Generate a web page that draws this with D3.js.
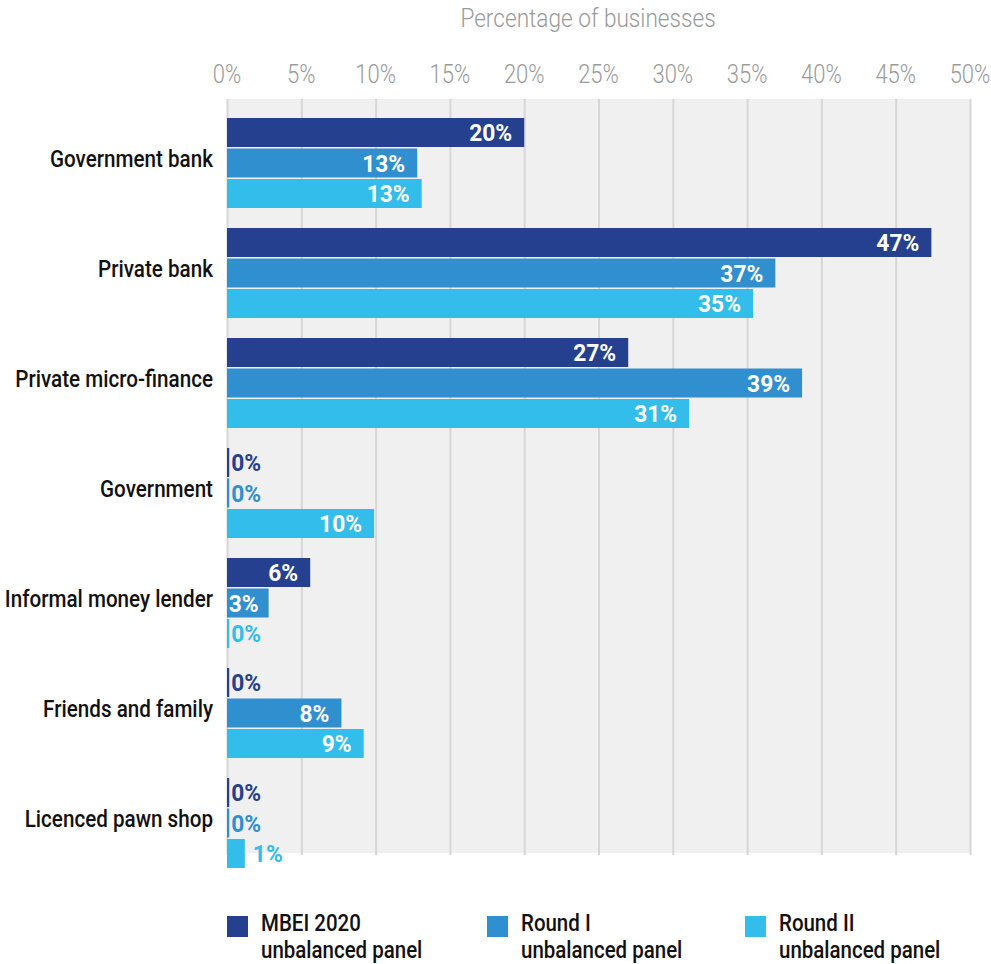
<!DOCTYPE html>
<html>
<head>
<meta charset="utf-8">
<script src="https://cdn.jsdelivr.net/npm/d3@7"></script>
<style>
  html, body { margin: 0; padding: 0; background: #fff; }
  svg { display: block; }
</style>
</head>
<body>
<svg id="chart" width="991" height="964"></svg>
<script>
// Sources of business credit, share of businesses by survey round
const categories = [
  "Government bank",
  "Private bank",
  "Private micro-finance",
  "Government",
  "Informal money lender",
  "Friends and family",
  "Licenced pawn shop"
];
const seriesKeys = ["mbei2020", "roundI", "roundII"];
const seriesLabels = [
  ["MBEI 2020", "unbalanced panel"],
  ["Round I", "unbalanced panel"],
  ["Round II", "unbalanced panel"]
];
const seriesColors = ["#24408e", "#2f8fcf", "#33bdea"];

const mbei2020 = [20.0, 47.4, 27.0, 0.15, 5.6, 0.15, 0.15];
const roundI   = [12.8, 36.9, 38.7, 0.15, 2.8, 7.7, 0.15];
const roundII  = [13.1, 35.4, 31.1, 9.9, 0.15, 9.2, 1.2];

const xTicks = [0, 5, 10, 15, 20, 25, 30, 35, 40, 45, 50];
const axisTitle = "Percentage of businesses";

const seriesValues = [mbei2020, roundI, roundII];
const rows = categories.map((c, i) => ({
  category: c,
  values: seriesKeys.map((k, j) => ({ key: k, idx: j, value: seriesValues[j][i] }))
}));

const FONT = "Roboto, 'Open Sans', sans-serif";

const svg = d3.select("#chart");

const x = d3.scaleLinear().domain([0, 50]).range([227, 970]);
const y0 = d3.scaleBand().domain(categories).range([108, 878])
  .paddingInner(20 / 110).paddingOuter(10 / 110);
const y1 = d3.scaleBand().domain(seriesKeys).range([0, y0.bandwidth()]).paddingInner(0.05);
const color = d3.scaleOrdinal().domain(seriesKeys).range(seriesColors);
const fmt = v => d3.format(".0f")(v) + "%";

// helper: horizontally narrowed text anchored at (tx, ty)
function ctext(sel, tx, ty, squeeze) {
  return sel.attr("transform", `translate(${tx},${ty}) scale(${squeeze},1)`);
}

// plot background
const plotTop = 99, plotBottom = 853;
svg.append("rect")
  .attr("x", x(0)).attr("y", plotTop)
  .attr("width", x(50) - x(0) + 1).attr("height", plotBottom - plotTop)
  .attr("fill", "#f0f0f0");

// vertical gridlines via the axis generator
const grid = svg.append("g")
  .attr("transform", `translate(0,${plotTop})`)
  .call(d3.axisBottom(x).tickValues(xTicks).tickSize(plotBottom + 2 - plotTop).tickFormat(""));
grid.select(".domain").remove();
grid.selectAll(".tick line").attr("stroke", "#d6d6d6").attr("stroke-width", 2);

// top tick labels
svg.append("g").selectAll("text").data(xTicks).join("text")
  .each(function(d) { ctext(d3.select(this), x(d), 83, 0.88); })
  .attr("text-anchor", "middle")
  .attr("font-family", FONT).attr("font-weight", 300)
  .attr("font-size", 25).attr("fill", "#9a9a9a")
  .text(d => d + "%");

// axis title
ctext(svg.append("text"), 588, 27, 0.87)
  .attr("text-anchor", "middle")
  .attr("font-family", FONT).attr("font-weight", 300)
  .attr("font-size", 26).attr("fill", "#9a9a9a")
  .text(axisTitle);

// bar groups
const groups = svg.append("g").selectAll("g").data(rows).join("g")
  .attr("transform", d => `translate(0,${y0(d.category)})`);

groups.selectAll("rect").data(d => d.values).join("rect")
  .attr("x", x(0))
  .attr("y", d => y1(d.key))
  .attr("width", d => x(d.value) - x(0))
  .attr("height", y1.bandwidth())
  .attr("fill", d => color(d.key));

// value labels: inside white for wider bars, outside in bar colour otherwise
groups.selectAll("text.val").data(d => d.values).join("text")
  .attr("class", "val")
  .each(function(d) {
    const inside = d.value >= 2;
    const tx = inside ? x(d.value) - (d.value < 4 ? 10 : 12) : x(d.value) + (d.value >= 1 ? 8 : 2);
    ctext(d3.select(this), tx, y1(d.key) + y1.bandwidth() / 2 + 8.5, 0.95)
      .attr("text-anchor", inside ? "end" : "start")
      .attr("fill", inside ? "#ffffff" : color(d.key));
  })
  .attr("font-family", FONT).attr("font-weight", 700)
  .attr("font-size", 24)
  .text(d => fmt(d.value));

// category labels
svg.append("g").selectAll("text").data(categories).join("text")
  .each(function(d) {
    ctext(d3.select(this), 213, y0(d) + y1("roundI") + y1.bandwidth() / 2 + 4, 0.86);
  })
  .attr("text-anchor", "end")
  .attr("font-family", FONT).attr("font-weight", 500)
  .attr("font-size", 24).attr("fill", "#111")
  .text(d => d);

// legend
const legendX = [227, 487, 745];
const legend = svg.append("g").selectAll("g").data(seriesKeys).join("g")
  .attr("transform", (d, i) => `translate(${legendX[i]},916)`);
legend.append("rect")
  .attr("width", 21).attr("height", 21)
  .attr("fill", d => color(d));
legend.each(function(d, i) {
  const g = d3.select(this);
  seriesLabels[i].forEach((line, k) => {
    ctext(g.append("text"), 34, 15 + k * 27, 0.89)
      .attr("font-family", FONT).attr("font-weight", 500)
      .attr("font-size", 23).attr("fill", "#111")
      .text(line);
  });
});
</script>
</body>
</html>
